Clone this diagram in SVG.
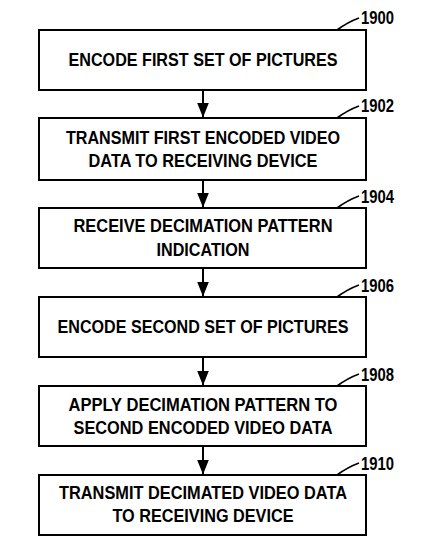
<svg xmlns="http://www.w3.org/2000/svg" width="421" height="547" viewBox="0 0 421 547">
<style>
.box{fill:#fff;stroke:#000;stroke-width:2}
.t{font-family:"Liberation Sans",Arial,sans-serif;font-weight:bold;font-size:19px;fill:#000;text-anchor:middle}
.n{font-family:"Liberation Sans",Arial,sans-serif;font-weight:bold;font-size:19px;fill:#000}
.lead{fill:none;stroke:#000;stroke-width:1.6}
.conn{stroke:#000;stroke-width:2;fill:none}
</style>
<defs>
<marker id="ahd" markerWidth="15" markerHeight="12" refX="15" refY="6" orient="auto" markerUnits="userSpaceOnUse" viewBox="0 0 15 12">
<path d="M0,0 L15,6 L0,12 Z" fill="#000"/>
</marker>
</defs>
<rect width="421" height="547" fill="#fff"/>
<g id="connectors">
<line class="conn" x1="203" y1="90" x2="203" y2="117.5" marker-end="url(#ahd)"/>
<line class="conn" x1="203" y1="180" x2="203" y2="207.5" marker-end="url(#ahd)"/>
<line class="conn" x1="203" y1="268" x2="203" y2="296.5" marker-end="url(#ahd)"/>
<line class="conn" x1="203" y1="357" x2="203" y2="385.5" marker-end="url(#ahd)"/>
<line class="conn" x1="203" y1="446" x2="203" y2="474.5" marker-end="url(#ahd)"/>
</g>
<g id="n1900">
<rect class="box" x="39" y="30" width="327" height="60"/>
<text class="t" x="203" y="66" textLength="269" lengthAdjust="spacingAndGlyphs">ENCODE FIRST SET OF PICTURES</text>
<path class="lead" d="M337,30 Q348,22 359,18"/>
<text class="n" x="361" y="24" textLength="33" lengthAdjust="spacingAndGlyphs">1900</text>
</g>
<g id="n1902">
<rect class="box" x="39" y="118" width="327" height="62"/>
<text class="t" x="203" y="144" textLength="274" lengthAdjust="spacingAndGlyphs">TRANSMIT FIRST ENCODED VIDEO</text>
<text class="t" x="203" y="167" textLength="229" lengthAdjust="spacingAndGlyphs">DATA TO RECEIVING DEVICE</text>
<path class="lead" d="M337,118 Q348,110 359,106"/>
<text class="n" x="361" y="112" textLength="33" lengthAdjust="spacingAndGlyphs">1902</text>
</g>
<g id="n1904">
<rect class="box" x="39" y="208" width="327" height="60"/>
<text class="t" x="203" y="232" textLength="259" lengthAdjust="spacingAndGlyphs">RECEIVE DECIMATION PATTERN</text>
<text class="t" x="203" y="256" textLength="93" lengthAdjust="spacingAndGlyphs">INDICATION</text>
<path class="lead" d="M337,208 Q348,200 359,196"/>
<text class="n" x="361" y="203" textLength="33" lengthAdjust="spacingAndGlyphs">1904</text>
</g>
<g id="n1906">
<rect class="box" x="39" y="297" width="327" height="60"/>
<text class="t" x="203" y="333" textLength="291" lengthAdjust="spacingAndGlyphs">ENCODE SECOND SET OF PICTURES</text>
<path class="lead" d="M337,297 Q348,289 359,285"/>
<text class="n" x="361" y="292" textLength="33" lengthAdjust="spacingAndGlyphs">1906</text>
</g>
<g id="n1908">
<rect class="box" x="39" y="386" width="327" height="60"/>
<text class="t" x="203" y="411" textLength="269" lengthAdjust="spacingAndGlyphs">APPLY DECIMATION PATTERN TO</text>
<text class="t" x="203" y="434" textLength="259" lengthAdjust="spacingAndGlyphs">SECOND ENCODED VIDEO DATA</text>
<path class="lead" d="M337,386 Q348,378 359,374"/>
<text class="n" x="361" y="381" textLength="33" lengthAdjust="spacingAndGlyphs">1908</text>
</g>
<g id="n1910">
<rect class="box" x="39" y="475" width="327" height="60"/>
<text class="t" x="203" y="499" textLength="288" lengthAdjust="spacingAndGlyphs">TRANSMIT DECIMATED VIDEO DATA</text>
<text class="t" x="203" y="522" textLength="181" lengthAdjust="spacingAndGlyphs">TO RECEIVING DEVICE</text>
<path class="lead" d="M337,475 Q348,467 359,463"/>
<text class="n" x="361" y="470" textLength="33" lengthAdjust="spacingAndGlyphs">1910</text>
</g>
</svg>
